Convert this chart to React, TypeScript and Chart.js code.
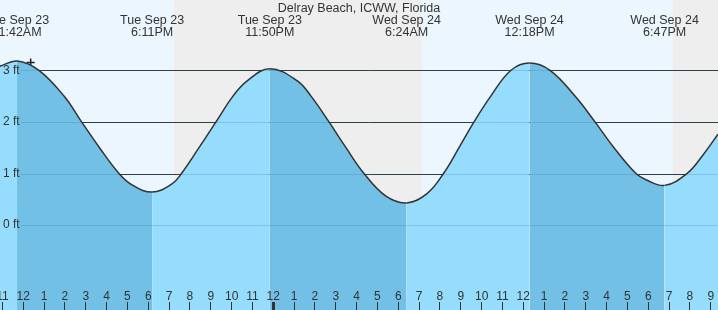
import React, { useEffect, useRef } from "react";
import { Chart, registerables } from "chart.js";

Chart.register(...registerables);

const title = "Delray Beach, ICWW, Florida";

// x values are hours since 00:00 Tue Sep 23
const xMinHour = 10.882;
const xMaxHour = 45.346;
const yMinFeet = -1.645;
const yMaxFeet = 4.362;

const tideHours = [
  10.882, 11.7, 12.75, 13.954, 14.798, 15.658, 16.594, 17.218, 18.183,
  19.138, 19.594, 20.434, 21.25, 22.066, 22.762, 23.833,
  25.138, 25.81, 26.674, 27.49, 28.354, 29.41, 30.4,
  31.378, 32.17, 32.914, 33.634, 34.44, 35.41, 36.3,
  37.282, 38.482, 39.442, 40.354, 41.41, 41.89, 42.783,
  43.859, 44.627, 45.346,
];
const tideFeet = [
  3.08, 3.18, 3.0, 2.5, 2.0, 1.5, 1.0, 0.78, 0.64,
  0.8, 1.0, 1.5, 2.0, 2.5, 2.8, 3.03,
  2.8, 2.5, 2.0, 1.5, 1.0, 0.56, 0.43,
  0.61, 1.0, 1.5, 2.0, 2.5, 3.0, 3.14,
  3.0, 2.5, 2.0, 1.5, 1.0, 0.88, 0.77,
  1.0, 1.36, 1.76,
];

const extremeHours = [11.7, 18.183, 23.833, 30.4, 36.3, 42.783];
const extremeDays = ["Tue Sep 23", "Tue Sep 23", "Tue Sep 23", "Wed Sep 24", "Wed Sep 24", "Wed Sep 24"];
const extremeTimes = ["11:42AM", "6:11PM", "11:50PM", "6:24AM", "12:18PM", "6:47PM"];

const nightStarts = [19.234, 43.187];
const nightEnds = [31.123, 46.0];

const nowHour = [12.355];
const nowFeet = [3.15];

const gridFeet = [0, 1, 2, 3];
const gridLabels = ["0 ft", "1 ft", "2 ft", "3 ft"];

const hourTickValues = [11, 12, 13, 14, 15, 16, 17, 18, 19, 20, 21, 22, 23, 24, 25, 26, 27, 28, 29, 30, 31, 32, 33, 34, 35, 36, 37, 38, 39, 40, 41, 42, 43, 44, 45];
const hourTickLabels = ["11", "12", "1", "2", "3", "4", "5", "6", "7", "8", "9", "10", "11", "12", "1", "2", "3", "4", "5", "6", "7", "8", "9", "10", "11", "12", "1", "2", "3", "4", "5", "6", "7", "8", "9"];
const midnightHours = [24];

const FONT = "'Liberation Sans', Arial, sans-serif";
const BG_DAY = "#ecf6fe";
const BG_NIGHT = "#eeeeee";
const FILL_LIGHT = "#96dcfd";
const FILL_DARK = "#72c0e5";
const INK = "#333333";

const decorPlugin = {
  id: "tideDecor",
  beforeDraw(chart: any) {
    const { ctx, chartArea: a, scales } = chart;
    const x = scales.x, y = scales.y;
    ctx.save();
    ctx.fillStyle = BG_DAY;
    ctx.fillRect(a.left, a.top, a.right - a.left, a.bottom - a.top);
    ctx.fillStyle = BG_NIGHT;
    nightStarts.forEach((s, i) => {
      const x0 = x.getPixelForValue(s);
      const x1 = Math.min(x.getPixelForValue(nightEnds[i]), a.right);
      ctx.fillRect(x0, a.top, x1 - x0, a.bottom - a.top);
    });
    ctx.strokeStyle = INK;
    ctx.lineWidth = 1;
    gridFeet.forEach((v) => {
      if (v === 0) return;
      const py = Math.round(y.getPixelForValue(v)) + 0.5;
      ctx.beginPath();
      ctx.moveTo(21, py);
      ctx.lineTo(a.right, py);
      ctx.stroke();
    });
    ctx.restore();
  },
  beforeDatasetDraw(chart: any, args: any) {
    if (args.index !== 0) return;
    const { ctx, chartArea: a, scales } = chart;
    const y = scales.y;
    ctx.save();
    ctx.strokeStyle = "rgba(30,110,170,0.22)";
    ctx.lineWidth = 1;
    gridFeet.forEach((v) => {
      const py = Math.round(y.getPixelForValue(v)) + 0.5;
      ctx.beginPath();
      ctx.moveTo(21, py);
      ctx.lineTo(a.right, py);
      ctx.stroke();
    });
    ctx.restore();
  },
  afterDraw(chart: any) {
    const { ctx, chartArea: a, scales } = chart;
    const x = scales.x, y = scales.y;
    ctx.save();
    ctx.fillStyle = INK;
    ctx.font = `12px ${FONT}`;
    ctx.textAlign = "left";
    ctx.textBaseline = "middle";
    gridFeet.forEach((v, i) => {
      ctx.fillText(gridLabels[i], 3, y.getPixelForValue(v));
    });
    ctx.textAlign = "center";
    ctx.textBaseline = "alphabetic";
    hourTickValues.forEach((h, i) => {
      const px = x.getPixelForValue(h);
      ctx.fillText(hourTickLabels[i], px, 299.5);
      const w = midnightHours.includes(h) ? 3 : 1;
      ctx.fillRect(Math.round(px - w / 2), 302, w, a.bottom - 302);
    });
    ctx.font = `12.5px ${FONT}`;
    ctx.fillText(title, (a.left + a.right) / 2, 12);
    extremeHours.forEach((h, i) => {
      const px = x.getPixelForValue(h);
      ctx.fillText(extremeDays[i], px, 24);
      ctx.fillText(extremeTimes[i], px, 36);
    });
    ctx.restore();
  },
};

export default function App() {
  const ref = useRef<HTMLCanvasElement | null>(null);
  useEffect(() => {
    if (!ref.current) return;
    const chart = new Chart(ref.current, {
      type: "line",
      data: {
        datasets: [
          {
            data: tideHours.map((h, i) => ({ x: h, y: tideFeet[i] })),
            borderColor: INK,
            borderWidth: 1.5,
            pointRadius: 0,
            tension: 0.4,
            fill: "start",
            backgroundColor: FILL_LIGHT,
            segment: {
              backgroundColor: (c: any) => {
                // falling-tide stretches (high to next low) use the darker fill
                const i0 = c.p0DataIndex;
                let k = extremeHours.length - 1;
                while (k > 0 && extremeHours[k] > tideHours[i0] + 1e-6) k--;
                const startIsHigh = extremeHours[k] <= tideHours[i0] + 1e-6 && (k % 2 === 0);
                return startIsHigh ? FILL_DARK : FILL_LIGHT;
              },
            },
          } as any,
          {
            data: nowHour.map((h, i) => ({ x: h, y: nowFeet[i] })),
            showLine: false,
            fill: false,
            pointStyle: "cross",
            pointRadius: 4,
            pointBorderColor: "#222",
            pointBorderWidth: 1.5,
          } as any,
        ],
      },
      options: {
        animation: false,
        responsive: false,
        devicePixelRatio: 1,
        events: [],
        layout: { padding: 0, autoPadding: false },
        plugins: { legend: { display: false }, tooltip: { enabled: false }, title: { display: false } },
        scales: {
          x: { type: "linear", min: xMinHour, max: xMaxHour, display: false },
          y: { type: "linear", min: yMinFeet, max: yMaxFeet, display: false },
        },
      },
      plugins: [decorPlugin],
    });
    return () => chart.destroy();
  }, []);
  return (
    <div style={{ position: "fixed", left: 0, top: 0, width: 718, height: 310 }}>
      <canvas ref={ref} width={718} height={310} style={{ display: "block" }} />
    </div>
  );
}
